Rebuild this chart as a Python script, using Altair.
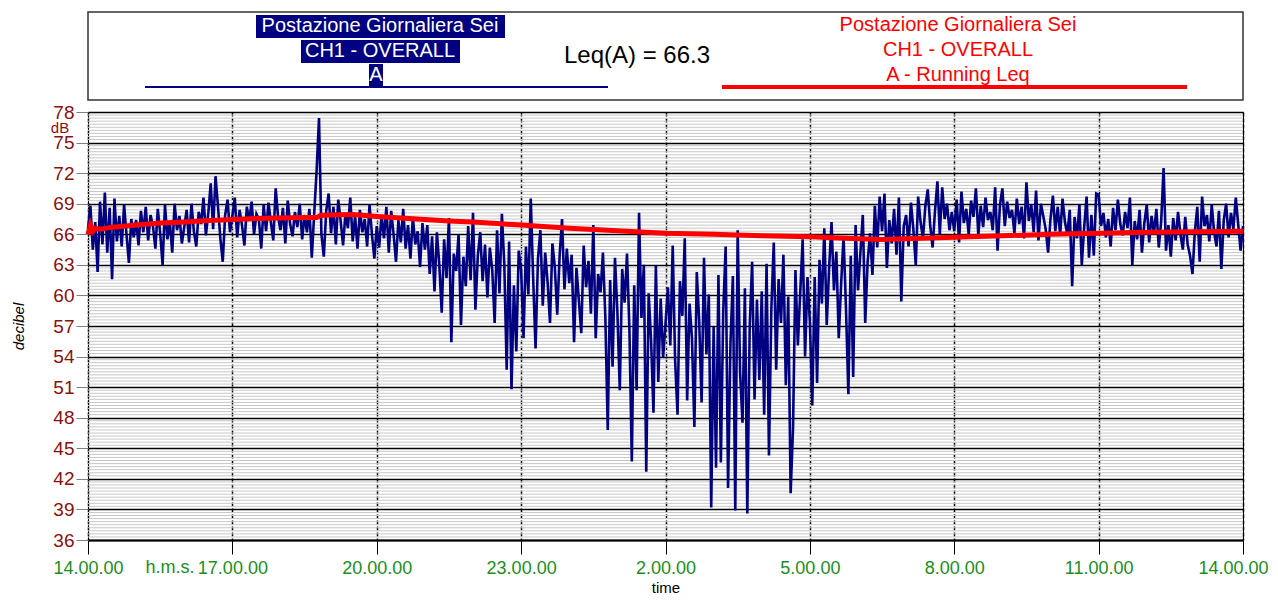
import altair as alt
import pandas as pd

# ---- blue series: sound level (dB(A)) every 3 minutes from 14:00 to 14:00 next day ----
h00 = [66.5, 68.8, 64.5, 67.2, 62.3, 69.2, 65.0, 70.1, 64.2, 68.6, 61.6, 69.5, 65.3, 67.8, 64.8, 68.9, 66.0, 63.2, 67.5, 65.7]
h01 = [67.4, 64.9, 68.3, 66.2, 68.7, 65.4, 67.9, 66.8, 64.6, 68.5, 66.1, 63.0, 68.9, 65.5, 67.3, 64.2, 69.0, 66.4, 67.8, 65.1]
h02 = [66.7, 68.4, 65.2, 69.0, 66.3, 64.8, 68.2, 67.0, 69.6, 65.9, 68.1, 71.0, 66.5, 71.7, 68.8, 65.6, 63.3, 67.9, 69.4, 66.2]
h03 = [67.8, 69.6, 65.7, 68.4, 66.9, 64.9, 68.7, 67.3, 69.2, 66.0, 68.0, 67.5, 64.6, 68.9, 66.3, 69.1, 67.2, 65.4, 70.5, 67.7]
h04 = [66.4, 68.6, 65.1, 69.3, 67.0, 65.8, 68.2, 66.7, 69.0, 65.5, 67.9, 66.2, 68.5, 63.7, 68.0, 72.2, 77.4, 66.0, 63.8, 68.3]
h05 = [70.0, 66.1, 68.7, 65.0, 69.4, 67.3, 64.9, 68.1, 66.6, 69.6, 65.3, 67.8, 64.6, 68.4, 66.2, 67.5, 64.8, 68.9, 66.0, 63.6]
h06 = [66.8, 64.7, 67.9, 65.6, 68.7, 64.2, 68.3, 66.0, 63.3, 67.4, 65.2, 68.5, 64.6, 66.9, 63.6, 67.7, 65.0, 66.3, 62.8, 67.1]
h07 = [64.5, 66.9, 62.1, 65.8, 60.4, 66.2, 63.0, 58.3, 65.5, 61.7, 67.6, 55.4, 64.1, 62.4, 66.0, 57.1, 63.8, 60.9, 66.8, 61.5]
h08 = [68.1, 58.6, 63.9, 66.2, 61.4, 65.0, 59.8, 64.7, 62.5, 57.3, 66.4, 60.2, 68.0, 63.1, 52.7, 65.3, 50.8, 61.0, 54.5, 64.4]
h09 = [62.5, 55.8, 64.8, 60.1, 69.5, 61.7, 54.8, 63.6, 66.4, 59.0, 64.2, 61.3, 57.3, 65.1, 62.8, 58.1, 63.9, 67.5, 60.6, 64.6]
h10 = [61.2, 64.0, 55.4, 62.7, 59.5, 56.3, 64.9, 60.8, 63.4, 58.2, 66.9, 55.8, 62.1, 60.3, 64.2, 57.9, 46.8, 61.5, 53.0, 63.7]
h11 = [58.4, 50.7, 62.6, 59.3, 64.1, 56.7, 43.7, 61.0, 50.7, 68.1, 57.8, 63.0, 42.7, 60.2, 55.6, 48.5, 62.9, 51.5, 59.7, 53.9]
h12 = [57.2, 60.8, 55.1, 64.9, 53.6, 48.3, 61.4, 58.0, 65.6, 49.7, 59.2, 55.8, 47.1, 62.3, 57.5, 49.5, 63.7, 54.2, 60.1, 39.2]
h13 = [56.9, 43.1, 62.0, 43.6, 58.5, 64.8, 41.1, 55.3, 61.9, 38.9, 66.4, 52.4, 47.5, 60.7, 38.6, 57.0, 63.3, 49.8, 59.6, 51.7]
h14 = [60.4, 48.3, 63.1, 44.3, 58.8, 65.2, 52.7, 61.6, 57.3, 64.0, 51.2, 59.9, 40.6, 47.0, 62.5, 55.1, 60.3, 65.5, 54.0, 61.8]
h15 = [57.4, 49.2, 61.8, 51.4, 63.5, 59.2, 66.6, 57.1, 62.7, 67.2, 60.5, 64.3, 55.8, 61.2, 65.8, 58.8, 50.3, 63.9, 52.0, 66.9]
h16 = [60.5, 64.2, 67.9, 57.3, 63.3, 66.1, 62.0, 68.8, 64.7, 69.7, 66.3, 70.0, 62.7, 67.4, 65.1, 68.5, 64.0, 69.6, 59.4, 66.8]
h17 = [67.9, 64.8, 69.1, 66.5, 63.0, 69.7, 67.2, 65.6, 68.8, 70.4, 66.9, 64.7, 68.3, 71.2, 66.0, 70.6, 67.5, 69.0, 66.4, 68.2]
h18 = [66.3, 69.4, 65.2, 70.2, 67.1, 68.5, 66.0, 69.3, 67.7, 70.5, 65.9, 68.8, 66.7, 69.6, 67.4, 68.2, 66.4, 70.6, 64.4, 68.9]
h19 = [70.5, 66.8, 69.2, 67.6, 68.4, 66.1, 69.5, 67.0, 68.7, 65.6, 71.1, 67.3, 68.9, 66.2, 70.3, 65.4, 69.0, 67.8, 66.5, 64.2]
h20 = [67.5, 69.8, 66.3, 68.7, 65.9, 69.5, 67.2, 66.0, 68.4, 60.9, 67.7, 65.6, 68.9, 63.0, 66.7, 69.7, 63.7, 67.9, 63.9, 70.0]
h21 = [69.9, 66.8, 68.1, 65.7, 67.5, 64.8, 68.6, 66.4, 69.4, 67.0, 65.9, 68.2, 66.6, 69.6, 63.0, 67.3, 65.5, 68.4, 64.2, 67.1]
h22 = [68.9, 65.2, 67.8, 66.1, 68.5, 64.7, 67.3, 72.5, 64.4, 66.9, 63.8, 67.6, 65.4, 68.2, 66.0, 64.5, 67.7, 65.0, 63.9, 62.1]
h23 = [66.3, 68.7, 63.3, 69.7, 66.8, 67.9, 65.3, 68.9, 66.2, 64.8, 68.3, 62.6, 67.4, 69.0, 65.7, 68.1, 66.5, 69.6, 67.0, 64.4, 66.8]

level_db = (h00 + h01 + h02 + h03 + h04 + h05 + h06 + h07 + h08 + h09 + h10 + h11
            + h12 + h13 + h14 + h15 + h16 + h17 + h18 + h19 + h20 + h21 + h22 + h23)
level_min = [3 * i for i in range(len(level_db))]

# ---- red series: running Leq ----
leq_min = [0, 3, 6, 9, 15, 30, 60, 90, 120, 150, 180, 210, 240, 270, 285, 290, 300, 330, 360,
           390, 420, 450, 480, 510, 540, 600, 660, 720, 780, 840, 900, 960, 990, 1020, 1080,
           1140, 1200, 1260, 1320, 1380, 1440]
leq_db = [66.0, 66.9, 66.3, 66.6, 66.5, 66.7, 66.9, 67.1, 67.2, 67.35, 67.45, 67.55, 67.6, 67.65,
          67.65, 67.85, 67.9, 67.95, 67.75, 67.6, 67.45, 67.3, 67.2, 67.05, 66.9, 66.6, 66.35,
          66.1, 66.0, 65.85, 65.75, 65.55, 65.5, 65.55, 65.7, 65.85, 66.0, 66.1, 66.2, 66.25, 66.3]

x_ticks = [0, 180, 360, 540, 720, 900, 1080, 1260, 1440]
x_labels = ["14.00.00", "17.00.00", "20.00.00", "23.00.00", "2.00.00", "5.00.00",
            "8.00.00", "11.00.00", "14.00.00"]
y_ticks = [36, 39, 42, 45, 48, 51, 54, 57, 60, 63, 66, 69, 72, 75, 78]
minor_y = [round(36 + 0.3 * k, 1) for k in range(1, 140) if k % 10 != 0]

FONT = "Liberation Sans"
NAVY = "#000080"
RED = "#ff0000"
DARKRED = "#8b1010"
GREEN = "#1a8f1a"
W, H = 1155, 428

df = pd.DataFrame({"t": level_min, "db": level_db})
dleq = pd.DataFrame({"t": leq_min, "db": leq_db})
dminor = pd.DataFrame({"db": minor_y})
one = pd.DataFrame({"a": [0]})

label_expr = "[" + ",".join("'%s'" % s for s in x_labels) + "][round(datum.value/180)]"

xscale = alt.Scale(domain=[0, 1440], nice=False, zero=False)
yscale = alt.Scale(domain=[36, 78], nice=False, zero=False)

x_axis = alt.Axis(
    values=x_ticks, labelExpr=label_expr, labelColor=GREEN, labelFont=FONT,
    labelFontSize=18, labelPadding=5, labelOverlap=False, labelFlush=False,
    labelOffset={"condition": {"test": "datum.value == 1440", "value": -10}, "value": 0},
    tickColor="black", tickSize=14, tickWidth=1,
    domainColor="black", domainWidth=2,
    grid=True, gridColor="black", gridDash=[4, 2], gridWidth=1.5,
    title="time", titleFont=FONT, titleFontSize=15, titleFontWeight="normal",
    titleColor="black", titleY=47, titleBaseline="middle")
y_axis = alt.Axis(
    values=y_ticks, labelColor=DARKRED, labelFont=FONT, labelFontSize=19,
    labelPadding=2, tickColor="#808080", tickSize=12, domain=False,
    grid=True, gridColor="black", gridWidth=1.5,
    title="decibel", titleFont=FONT, titleFontSize=15, titleFontStyle="italic",
    titleFontWeight="normal", titleColor="black", titleX=-70, titleY=214,
    titleAngle=-90, titleBaseline="middle")

minor = alt.Chart(dminor).mark_rule(color="#c8c8c8", strokeWidth=1).encode(
    y=alt.Y("db:Q", scale=yscale, axis=y_axis)
)

blue = alt.Chart(df).mark_line(color=NAVY, strokeWidth=2.6).encode(
    x=alt.X("t:Q", scale=xscale, axis=x_axis),
    y=alt.Y("db:Q", scale=yscale, axis=y_axis),
)

red = alt.Chart(dleq).mark_line(color=RED, strokeWidth=5).encode(
    x=alt.X("t:Q", scale=xscale, axis=x_axis),
    y=alt.Y("db:Q", scale=yscale, axis=y_axis),
)

# ---- legend box decorations (pixel positions relative to plot origin) ----
def rect(x1, x2, y1, y2, fill, stroke=None):
    kw = dict(fill=fill)
    if stroke:
        kw.update(stroke=stroke, strokeWidth=1.5)
    return alt.Chart(one).mark_rect(**kw).encode(
        x=alt.value(x1), x2=alt.value(x2), y=alt.value(y1), y2=alt.value(y2))

def text(s, x, y, color, size, align="center"):
    return alt.Chart(one).mark_text(
        text=s, color=color, fontSize=size, font=FONT, align=align, baseline="middle"
    ).encode(x=alt.value(x), y=alt.value(y))

def hline(x1, x2, y, color, width):
    return alt.Chart(one).mark_rule(color=color, strokeWidth=width).encode(
        x=alt.value(x1), x2=alt.value(x2), y=alt.value(y))

deco = [
    rect(0, W, -100, -12, "white", "#333333"),
    rect(168, 417, -97, -74, NAVY),
    rect(213, 372, -72, -49, NAVY),
    rect(281, 295, -48, -25, NAVY),
    text("Postazione Giornaliera Sei", 292, -86, "white", 20),
    text("CH1 - OVERALL", 292, -61, "white", 20),
    text("A", 288, -37, "white", 20),
    hline(57, 520, -25, NAVY, 2),
    text("Leq(A) = 66.3", 549, -56, "black", 24),
    text("Postazione Giornaliera Sei", 870, -87, RED, 20),
    text("CH1 - OVERALL", 870, -62, RED, 20),
    text("A - Running Leq", 870, -37, RED, 20),
    hline(634, 1099, -25, RED, 4),
    text("dB", -28, 16, DARKRED, 15),
    text("h.m.s.", 82, 456, GREEN, 18),
]

chart = alt.layer(minor, blue, red, *deco).properties(
    width=W, height=H,
    autosize=alt.AutoSizeParams(type="none"),
    padding={"left": 80, "top": 104, "right": 27, "bottom": 54},
).configure_view(stroke="black", strokeWidth=1)

chart.save("out.html", embed_options={"renderer": "svg", "actions": False})
